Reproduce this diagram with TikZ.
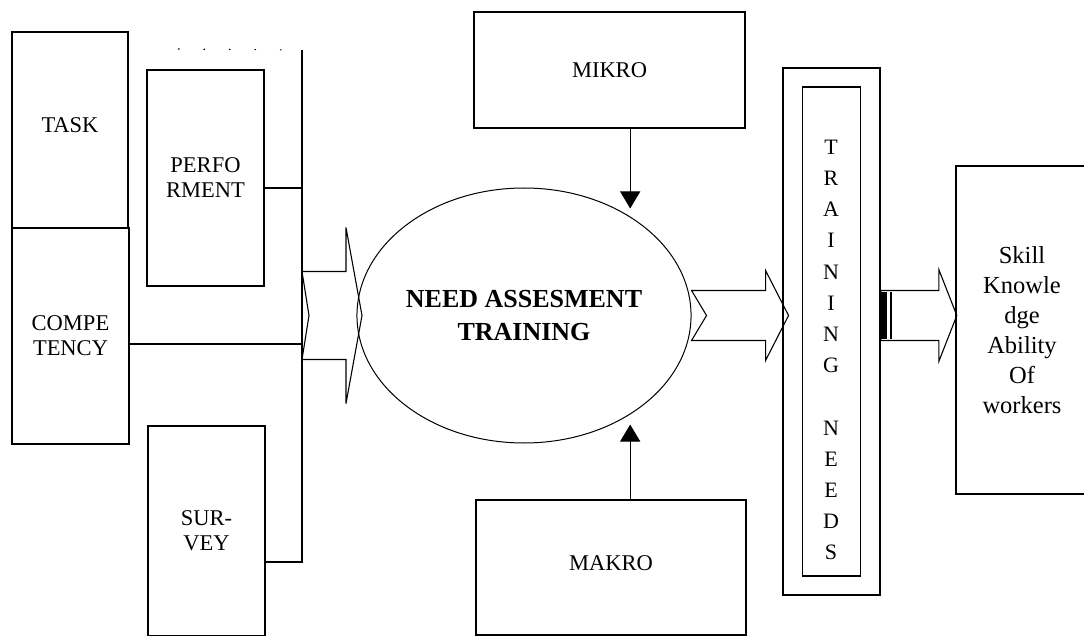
\documentclass[tikz,border=0pt]{standalone}
\usepackage{fontspec}
\setmainfont{Liberation Serif}
\usetikzlibrary{arrows.meta,positioning,shapes.geometric,calc}

% hollow block arrow: tail, shaft length, head length, shaft half, head half, notch
\newcommand{\blockarrow}[6]{%
  \draw[blockarr] ($(#1)+(0,-#4)$) -- ++(#2,0) -- ++(0,#4-#5)
    -- ($(#1)+(#2+#3,0)$) -- ($(#1)+(#2,#5)$) -- ++(0,#4-#5)
    -- ($(#1)+(0,#4)$) -- ($(#1)+(#6,0)$) -- cycle;}

\begin{document}
\begin{tikzpicture}[
  x=1pt,y=-1pt,
  every node/.style={font=\fontsize{22.5}{25}\selectfont},
  box/.style={draw,line width=1.1pt,inner sep=0pt,align=center},
  link/.style={line width=1.1pt},
  blockarr/.style={draw,line width=1.1pt,line join=miter},
  arr/.style={-{Triangle[width=20pt,length=17pt]},line width=1pt},
]
  \useasboundingbox (0,0) rectangle (1084,636);
  \clip (0,0) rectangle (1084,636);

  % Sources
  \node[box,minimum width=116pt,minimum height=196pt] (task) at (70,130) {\raisebox{10pt}{TASK}};
  \node[box,minimum width=117pt,minimum height=216pt] (comp) at (70.5,336) {COMPE\\TENCY};
  \node[box,minimum width=117pt,minimum height=216pt] (perf) at (205.5,178) {PERFO\\RMENT};
  \node[box,minimum width=117pt,minimum height=210pt] (survey) at (206.5,531) {SUR-\\VEY};

  % Bracket collecting the sources
  \coordinate (brtop) at (302,50);
  \coordinate (brbot) at (302,562);
  \coordinate (brtip) at (178,49);
  \draw[link,dash pattern=on 1.5pt off 24pt] (brtip) -- (brtop);
  \draw[link] (brtop) -- (brbot) -- (brbot -| survey.east);
  \draw[link] ([yshift=-10pt]perf.east) -- ([yshift=-10pt]perf.east -| brtop);
  \draw[link] ([yshift=-8pt]comp.east) -- ([yshift=-8pt]comp.east -| brtop);

  % Need assessment
  \node[draw,ellipse,line width=1pt,minimum width=324pt,minimum height=255pt,inner sep=0pt,
        align=center,font=\bfseries\fontsize{26}{33}\selectfont] (ell) at (524,315.5)
    {NEED ASSESMENT\\TRAINING};

  % Mikro / Makro
  \node[box,minimum width=271pt,minimum height=116pt] (mikro) at (609.5,70) {MIKRO};
  \node[box,minimum width=270pt,minimum height=135pt] (makro) at (611,567.5) {\raisebox{9pt}{MAKRO}};
  \draw[arr,shorten >=8pt] (mikro.south -| ell.43) -- (ell.43);
  \draw[arr,shorten >=10pt] (makro.north -| ell.-43) -- (ell.-43);

  % Training needs
  \node[box,line width=1.6pt,minimum width=97pt,minimum height=527pt] (tn) at (831.5,331.5) {};
  \node[box,minimum width=58pt,minimum height=489pt] (tnin) at (tn.center) {};
  \node[align=center,font=\fontsize{22}{31.2}\selectfont] (tnlbl) at (831,350)
    {T\\R\\A\\I\\N\\I\\N\\G\\[31.2pt]N\\E\\E\\D\\S};

  % Result
  \node[box,minimum width=132pt,minimum height=328pt,font=\fontsize{24.5}{30}\selectfont] (skill)
    at (1022,330) {Skill\\Knowle\\dge\\Ability\\Of\\workers};

  % Block arrows
  \coordinate (a1) at (brtop |- ell.west);
  \coordinate (a2) at (ell.east);
  \coordinate (a3) at (tn.east |- ell.east);
  \blockarrow{a1}{44}{16}{44}{88}{7}
  \blockarrow{a2}{74}{23}{25}{45}{15}
  \blockarrow{a3}{58}{18}{25}{46}{0}
  \fill ($(a3)+(0,-23)$) rectangle ++(6,46);
  \draw[line width=1.5pt] ($(a3)+(10,-23)$) -- ++(0,46);
\end{tikzpicture}
\end{document}
